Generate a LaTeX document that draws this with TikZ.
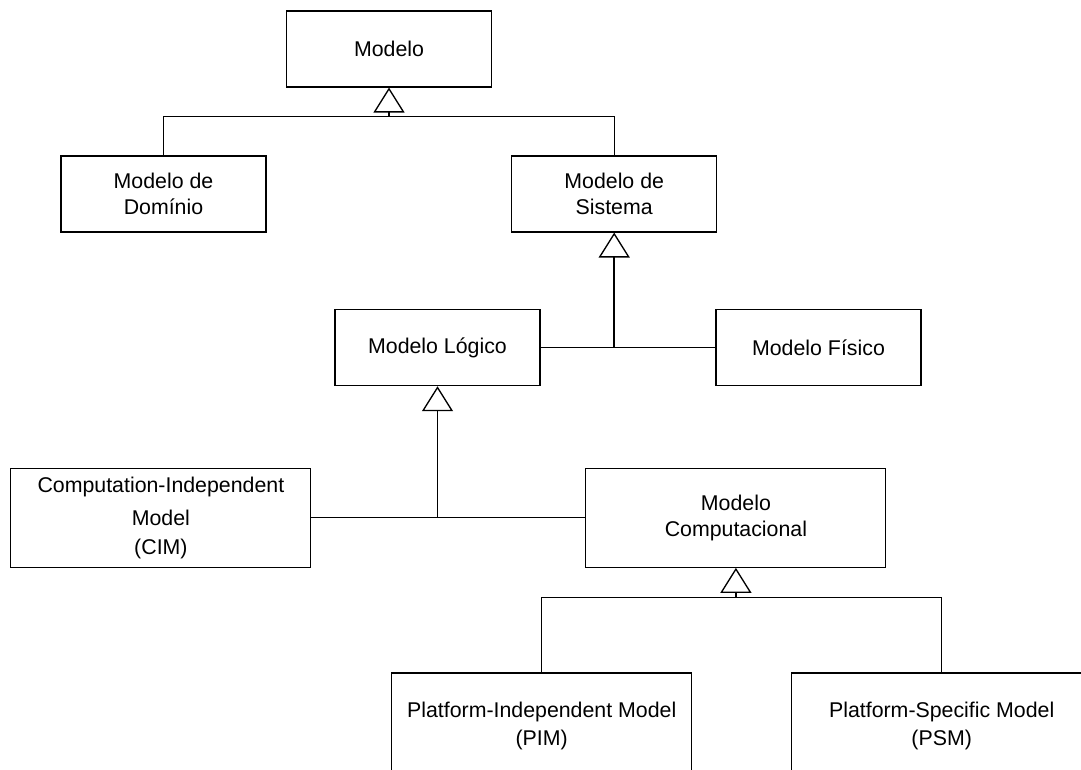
\documentclass[tikz,border=0pt]{standalone}
\usepackage{fontspec}
\setmainfont{Liberation Sans}
\usetikzlibrary{arrows.meta,calc}

\tikzset{
  box/.style={draw=black, line width=0.8pt, fill=white, inner sep=0pt,
    align=center, font=\fontsize{16}{19.2}\selectfont},
  smallbox/.style={box, minimum width=153.75pt, minimum height=57pt},
  bigbox/.style={box, minimum width=225pt, minimum height=74.25pt},
  link/.style={draw=black, line width=0.9pt},
  gen/.style={link, line width=1.1pt,
    -{Triangle[open, length=18.75pt, width=23.25pt, line width=1pt]}}
}

\begin{document}
\begin{tikzpicture}[x=0.75pt, y=-0.75pt]
  \useasboundingbox (0,0) rectangle (1081,769);
  \clip (0,0) rectangle (1081,769);

  % classes
  \node[smallbox] (modelo) at (389,49)    {Modelo};
  \node[smallbox] (dom)    at (163.5,194) {Modelo de\\Domínio};
  \node[smallbox] (sis)    at (614.2,194) {Modelo de\\Sistema};
  \node[smallbox] (log)    at (437.5,347.7) {Modelo Lógico};
  \node[smallbox] (fis)    at (818.5,347.7) {Modelo Físico};
  \node[bigbox]   (cim)    at (160.9,517.8)
    {Computation-Independent\\[5.5pt]Model\\[2.5pt](CIM)};
  \node[bigbox]   (comp)   at (735.9,517.8) {Modelo\\Computacional};
  \node[bigbox, minimum height=79.5pt] (pim) at (541.7,726)
    {Platform-Independent Model\\[1.8pt](PIM)};
  \node[bigbox, minimum height=79.5pt] (psm) at (941.7,726)
    {Platform-Specific Model\\[1.8pt](PSM)};

  % generalisation junctions
  \coordinate (j1) at ($(modelo.south)+(0,29)$);
  \coordinate (j2) at (log.east -| sis.south);
  \coordinate (j3) at (cim.east -| log.south);
  \coordinate (j4) at ($(comp.south)+(0,29.4)$);

  % Modelo <- Domínio, Sistema
  \draw[link] (dom.north) |- (j1) -| (sis.north);
  \draw[gen] (j1) -- (modelo.south);

  % Modelo de Sistema <- Lógico, Físico
  \draw[link] (log.east) -- (fis.west);
  \draw[gen] (j2) -- (sis.south);

  % Modelo Lógico <- CIM, Computacional
  \draw[link] (cim.east) -- (comp.west);
  \draw[gen] (j3) -- (log.south);

  % Modelo Computacional <- PIM, PSM
  \draw[link] (pim.north) |- (j4) -| (psm.north);
  \draw[gen] (j4) -- (comp.south);
\end{tikzpicture}
\end{document}
